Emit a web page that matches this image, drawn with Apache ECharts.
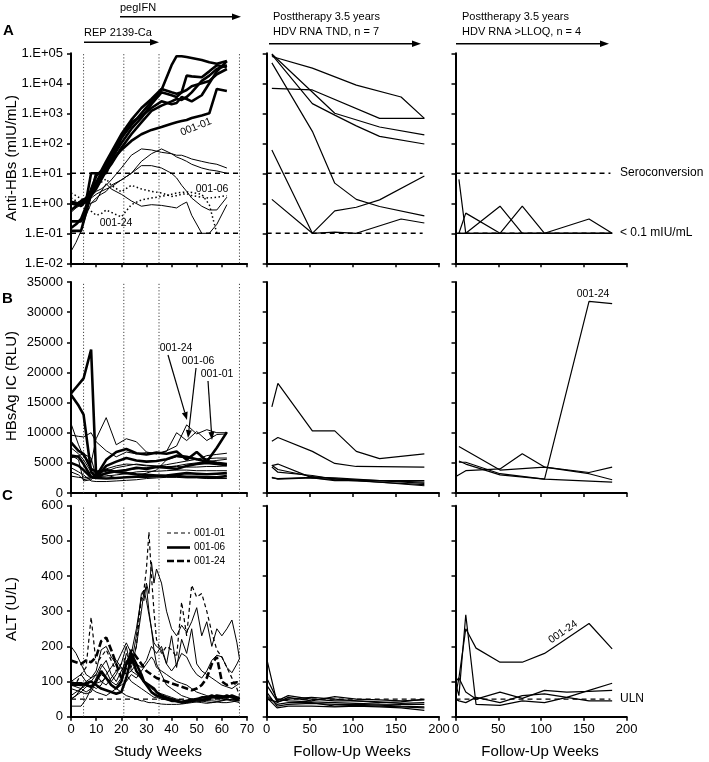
<!DOCTYPE html>
<html><head><meta charset="utf-8">
<script src="https://cdn.jsdelivr.net/npm/echarts@6/dist/echarts.min.js"></script>
<style>html,body{margin:0;padding:0;background:#fff}#c{width:709px;height:762px}</style>
</head><body><div id="c"></div>
<script>
// ---------------- DATA ----------------
const phaseWeeks = [5, 21, 35, 67];
const logTickLabels = ['1.E-02','1.E-01','1.E+00','1.E+01','1.E+02','1.E+03','1.E+04','1.E+05'];
const seroconversion = 10, lloqAntiHBs = 0.1, uln = 50;

// Row A, study weeks (anti-HBs, mIU/mL)
const aWeeks = [0, 2, 4, 6, 8, 10, 12, 14, 16, 20, 24, 28, 32, 36, 40, 42, 44, 46, 48, 52, 55, 58, 62];
const aThick1 = [0.12,0.12,0.12,0.5,2,10,10,10,25,150,400,1000,2500,6000,40000,80000,80000,75000,70000,60000,50000,45000,55000];
const aThick2 = [0.25,0.25,0.25,0.6,2,4,8,15,30,100,300,700,2000,5000,4000,3500,5000,18000,17000,16000,25000,40000,35000];
const aThick3 = [1.0,0.9,1.2,1.5,2.5,5,10,20,40,150,500,800,1500,2500,2000,2200,3500,3000,2500,4000,10000,25000,55000];
const a0101   = [0.6,0.8,1.0,1.3,1.8,3,6,12,25,60,120,200,280,350,450,500,550,600,700,850,1000,6500,5500];
const aThick5 = [0.15,0.2,0.3,0.8,3,8,12,25,50,200,600,1500,3000,6500,5000,4500,5000,6000,8000,10000,12000,20000,30000];
const aThick6 = [1.1,1.0,0.8,1.2,10,10,10,12,20,70,200,500,1200,1800,2500,3000,2800,3500,5000,12000,18000,30000,40000];
const aThin1  = [1.2,1.1,1.0,1.2,1.8,2.5,3,4,6,15,40,65,60,50,45,40,40,35,30,25,22,20,15];
const aThin2  = [0.5,0.7,0.9,1.2,1.5,2,2.5,3,3.5,6,10,25,45,65,45,35,30,25,20,15,13,12,10];
const aThin3  = [0.025,0.05,0.12,0.4,1.0,1.5,2.0,2.5,4,6,10,18,18,15,10,7,4,2.5,1.5,0.8,0.6,0.6,1.6];
const aThin4  = [1.1,1.0,1.0,1.0,1.0,1.2,2.5,4.5,3.0,2.0,1.2,0.8,0.9,0.85,0.75,0.7,0.9,1.1,0.4,0.1,0.1,0.2,0.9];
const aDot0106 = [2.2,1.8,1.4,1.3,2.0,3.5,5,6.5,4,2.4,4,3,2.5,2.2,1.7,1.8,2.0,2.1,1.8,1.6,1.5,1.6,1.8];
const aDot0124 = [1.5,1.2,1.0,0.8,0.55,0.4,0.45,0.6,0.5,0.35,0.9,1.3,1.5,1.7,2.0,2.2,2.3,2.4,2.3,2.0,0.9,0.1,null];

// Follow-up weeks (TND group)
const fuWeeks = [6, 13, 26, 53, 79, 104, 131, 156, 183];
const fA1 = [78000,null,null,32000,null,8700,null,3500,680];
const fA2 = [6800,null,null,6000,null,null,680,null,680];
const fA3 = [90000,null,null,2100,870,380,170,null,95];
const fA4 = [95000,null,null,null,1000,null,350,null,190];
const fA5 = [48000,null,null,250,4.7,1.35,0.78,null,0.38];
const fA6 = [60,null,null,0.1,0.56,0.74,1.3,null,8.1];
const fA7 = [1.35,null,null,0.1,0.11,0.1,null,0.3,0.22];

// Follow-up weeks (>LLOQ group)
const lqWeeksA = [4, 12, 26, 52, 78, 104, 130, 156, 183];
const lA1 = [6.3,0.1,0.1,0.1,0.1,0.1,0.1,0.1,0.1];
const lA2 = [0.1,0.47,null,0.1,0.1,0.1,null,0.1,0.1];
const lA3 = [0.1,0.1,null,0.8,0.1,0.1,null,0.1,0.1];
const lA4 = [0.1,0.1,null,0.1,0.8,0.1,null,0.3,0.1];

// Row B, study weeks (HBsAg IC, RLU)
const bWeeks = [0, 3, 5, 8, 10, 14, 18, 22, 26, 30, 34, 38, 42, 46, 50, 54, 58, 62];
const bThick1 = [16500,18000,19000,23800,2800,5500,6800,7300,6600,6400,6700,6500,6900,5500,6800,5300,5000,4800];
const bThick2 = [16300,14500,13000,3500,2600,3300,3600,3800,4200,4000,4300,4200,4000,4500,4800,5000,4800,4600];
const b0101   = [6200,6000,4800,2700,2500,4500,5200,5800,5400,5200,5300,5600,6200,6000,5600,5200,7500,10100];
const bThick4 = [8400,7000,6500,4000,3500,3800,3500,3300,3100,3000,2900,2800,2800,2700,2700,2600,2600,2800];
const bThick5 = [5000,4500,3800,2600,2500,2400,2500,2600,2700,2700,2800,2900,3100,3300,3200,3100,3200,3300];
const b0124   = [11500,8000,6000,5000,9000,12500,8000,9000,8500,6800,6500,7000,7800,11300,9800,10500,10000,10000];
const b0106   = [9600,9400,9300,10000,8500,7000,6000,6800,6500,6700,6500,6900,10000,8700,10200,8700,9700,9800];
const bThin3  = [7500,6500,5500,3500,3200,3000,2500,2600,2800,3300,3800,5500,6000,5800,5500,6200,6400,6600];
const bThin4  = [4200,3500,3000,2000,1900,1900,2000,2100,2200,2400,2500,2600,2600,2500,2500,2400,2400,2400];
const bThin5  = [6300,5500,2000,2200,3000,4000,4500,4800,4700,4500,4400,4300,4500,4800,5000,5200,5400,5600];
const bThin6  = [3500,3000,2200,2500,3200,3600,4200,4500,4800,4600,4500,4400,4400,4300,4300,4400,4400,4500];
const bThin7  = [5800,6200,6500,5800,2700,2800,3000,3200,3500,3600,3600,3700,3800,3800,3700,3700,3700,3700];
const bThin8  = [2800,2600,2500,2700,3000,3300,3600,3800,4000,4200,4400,4700,5000,5300,5600,5700,5800,5800];

const fB1 = [14300,18200,null,10300,10300,6900,5700,null,6500];
const fB2 = [8600,9200,null,6900,4900,4400,null,null,4300];
const fB3 = [4550,4800,null,2500,2200,null,null,null,1400];
const fB4 = [4300,3450,null,2900,2300,null,null,null,1800];
const fB5 = [2600,2300,null,2500,2050,null,null,null,2050];
const fB6 = [4600,3900,null,2700,2400,null,null,null,1200];
const fB7 = [2500,2400,null,2600,2500,null,null,null,1600];

const lqWeeksB = [0, 4, 12, 52, 78, 104, 130, 156, 183];
const lB1 = [null,5100,5100,3200,null,2300,null,31800,31400];
const lB2 = [null,7700,null,3800,null,4300,null,3400,4300];
const lB3 = [2700,null,3700,4000,6500,4300,null,3200,2200];
const lB4 = [null,5300,4800,3000,null,2300,null,null,1800];

// Row C, study weeks (ALT, U/L)
const cWeeks = [0,2,4,6,8,10,12,14,16,18,20,22,24,26,28,29,30,31,32,33,34,36,38,40,42,44,46,48,50,52,54,56,58,60,62,64,66,67];
const c0101 = [100,95,120,140,283,150,170,190,160,130,150,170,150,200,340,360,420,525,400,300,220,180,200,190,170,326,230,374,340,350,300,240,190,170,140,110,80,60];
const c0106 = [95,95,95,90,85,100,130,110,90,80,100,150,180,150,120,100,90,80,70,65,60,55,50,45,45,40,42,45,50,55,55,60,55,55,60,55,50,55];
const c0124 = [160,155,150,160,155,170,215,225,190,150,110,140,190,170,150,140,130,125,120,115,110,105,100,95,90,85,80,75,80,90,110,150,170,100,90,95,98,97];
const cThin1 = [200,180,150,120,110,130,190,200,170,150,180,210,180,250,340,330,380,350,440,380,420,380,300,250,230,260,240,270,310,230,270,200,250,230,250,275,210,165];
const cThin2 = [60,70,80,90,100,120,150,130,100,90,110,180,150,230,350,360,330,290,250,210,200,190,150,130,150,180,170,140,120,110,130,160,175,170,140,125,150,165];
const cThin3 = [90,85,80,70,80,110,140,160,120,100,130,160,140,200,300,355,370,300,250,190,150,120,90,80,70,60,55,50,45,45,48,50,52,50,48,50,50,52];
const cThin4 = [50,60,80,100,110,120,100,90,110,130,140,120,130,150,140,150,160,180,200,190,180,200,150,230,140,220,180,250,150,130,120,110,100,90,85,80,90,95];
const cThin5 = [30,30,30,50,80,95,100,110,90,80,70,60,55,50,45,45,42,40,40,40,38,36,35,35,35,36,38,40,42,40,38,40,42,40,40,42,45,45];
const cThin6 = [50,60,70,85,90,80,90,120,140,160,140,120,100,90,80,75,70,65,60,55,55,50,48,45,42,40,40,42,45,45,42,40,42,45,48,45,42,40];
const cThick2 = [90,92,90,95,100,90,80,75,70,65,70,110,170,130,110,100,95,90,85,80,70,60,55,50,45,42,45,48,50,48,50,55,60,58,55,60,55,50];
const cThin7 = [80,75,70,65,70,100,120,110,100,120,150,200,130,120,110,100,90,85,80,75,70,65,60,55,50,48,45,44,42,44,46,45,44,46,50,48,46,48];
const cThin8 = [100,110,120,100,80,70,65,60,70,80,90,100,120,110,130,140,150,160,170,160,140,130,120,110,100,95,90,80,70,65,60,55,55,52,50,48,46,45];

const fuWeeksC = [0, 12, 25, 52, 79, 104, 131, 156, 183];
const fC1 = [165,40,55,45,57,50,48,45,48];
const fC2 = [90,45,60,50,45,45,40,42,50];
const fC3 = [70,30,35,38,35,35,33,30,28];
const fC4 = [60,35,40,40,30,32,30,28,25];
const fC5 = [55,25,30,30,28,30,28,25,18];
const fC6 = [110,50,45,42,40,38,36,35,35];
const fC7 = [50,42,50,55,50,45,42,38,40];

const lqWeeksC = [0, 4, 12, 24, 52, 78, 104, 130, 156, 183];
const lC1 = [60,110,250,195,155,155,180,null,265,193];
const lC2 = [95,60,290,35,32,45,40,55,75,95];
const lC3 = [100,110,70,50,70,52,75,70,72,75];
const lC4 = [50,45,40,55,40,60,65,55,45,45];

// ---------------- CHART ----------------
const FONT = '"Liberation Sans", Arial, Helvetica, sans-serif';
const rowsY = [{top:53.3,h:210},{top:282,h:211},{top:505.7,h:211}];
const colsX = [{left:71,w:176},{left:266.7,w:172.3},{left:455.5,w:171.2}];
const grid = [], xAxis = [], yAxis = [], series = [];
for (let r = 0; r < 3; r++) for (let c = 0; c < 3; c++) {
  const gi = r*3 + c;
  grid.push({left: colsX[c].left, top: rowsY[r].top, width: colsX[c].w, height: rowsY[r].h, outerBoundsMode: 'none', containLabel: false});
  xAxis.push({gridIndex: gi, type: 'value', min: 0, max: c === 0 ? 70 : 200, interval: c === 0 ? 10 : 50,
    axisLine: {show: true, onZero: false, lineStyle: {color: '#000', width: 2}},
    axisTick: {show: true, length: 4, lineStyle: {color: '#000', width: 1.5}},
    axisLabel: {show: r === 2, color: '#000', fontSize: 13, fontFamily: FONT, margin: 6, formatter: v => String(v)},
    splitLine: {show: false}});
  const ya = {gridIndex: gi,
    axisLine: {show: true, onZero: false, lineStyle: {color: '#000', width: 2}},
    axisTick: {show: true, length: 4, lineStyle: {color: '#000', width: 1.5}},
    axisLabel: {show: c === 0, color: '#000', fontSize: 13, fontFamily: FONT, margin: 8, formatter: v => String(v)},
    splitLine: {show: false}};
  if (r === 0) Object.assign(ya, {type: 'log', logBase: 10, min: 0.01, max: 100000,
    axisLabel: Object.assign(ya.axisLabel, {formatter: v => logTickLabels[Math.round(Math.log10(v)) + 2]})});
  else if (r === 1) Object.assign(ya, {type: 'value', min: 0, max: 35000, interval: 5000});
  else Object.assign(ya, {type: 'value', min: 0, max: 600, interval: 100});
  yAxis.push(ya);
}

function addLine(gi, xs, ys, ls, z) {
  const data = [];
  xs.forEach((x, i) => { if (ys[i] != null) data.push([x, ys[i]]); });
  series.push({type: 'line', xAxisIndex: gi, yAxisIndex: gi, data, symbol: 'none', showSymbol: false,
    silent: true, animation: false, z: z || 3,
    lineStyle: Object.assign({color: '#000', width: 1}, ls)});
}
const THICK = {width: 2.6}, THIN = {width: 1}, FU = {width: 1.2};
const DOT = {width: 1.5, type: [1.5, 2.5]};
const REF = {width: 1.4, type: [5, 4], color: '#000'};
const VREF = {width: 1, type: [1.2, 2], color: '#444'};

// phase lines in column 1
[0, 1, 2].forEach(r => {
  const ext = r === 0 ? [0.01, 100000] : r === 1 ? [0, 35000] : [0, 600];
  phaseWeeks.forEach(w => addLine(r*3, [w, w], ext, VREF, 1));
});
// threshold lines
addLine(0, [0, 67], [seroconversion, seroconversion], REF, 2);
addLine(0, [0, 67], [lloqAntiHBs, lloqAntiHBs], REF, 2);
addLine(1, [0, 181], [seroconversion, seroconversion], REF, 2);
addLine(1, [0, 181], [lloqAntiHBs, lloqAntiHBs], REF, 2);
addLine(2, [0, 181], [seroconversion, seroconversion], REF, 2);
addLine(2, [0, 181], [lloqAntiHBs, lloqAntiHBs], REF, 2);
addLine(6, [0, 67], [uln, uln], REF, 2);
addLine(7, [0, 181], [uln, uln], REF, 2);
addLine(8, [0, 181], [uln, uln], REF, 2);

// Row A
[aThin1, aThin2, aThin3, aThin4].forEach(s => addLine(0, aWeeks, s, THIN));
[aDot0106, aDot0124].forEach(s => addLine(0, aWeeks, s, DOT));
[aThick1, aThick2, aThick3, a0101, aThick5, aThick6].forEach(s => addLine(0, aWeeks, s, THICK, 4));
[fA1, fA2, fA3, fA4, fA5, fA6, fA7].forEach(s => addLine(1, fuWeeks, s, FU));
[lA1, lA2, lA3, lA4].forEach(s => addLine(2, lqWeeksA, s, FU));
// Row B
[b0124, b0106, bThin3, bThin4, bThin5, bThin6, bThin7, bThin8].forEach(s => addLine(3, bWeeks, s, THIN));
[bThick1, bThick2, b0101, bThick4, bThick5].forEach(s => addLine(3, bWeeks, s, THICK, 4));
[fB1, fB2, fB3, fB4, fB5, fB6, fB7].forEach(s => addLine(4, fuWeeks, s, FU));
[lB1, lB2, lB3, lB4].forEach(s => addLine(5, lqWeeksB, s, FU));
// Row C
[cThin1, cThin2, cThin3, cThin4, cThin5, cThin6, cThin7, cThin8].forEach(s => addLine(6, cWeeks, s, THIN));
addLine(6, cWeeks, c0101, {width: 1.2, type: [4, 3]}, 4);
addLine(6, cWeeks, cThick2, THICK, 4);
addLine(6, cWeeks, c0106, THICK, 5);
addLine(6, cWeeks, c0124, {width: 2.6, type: [7, 3]}, 5);
[fC1, fC2, fC3, fC4, fC5, fC6, fC7].forEach(s => addLine(7, fuWeeksC, s, FU));
[lC1, lC2, lC3, lC4].forEach(s => addLine(8, lqWeeksC, s, FU));

// ---------------- ANNOTATIONS ----------------
const g = [];
function txt(text, x, y, size, opts) {
  opts = opts || {};
  g.push({type: 'text', x, y, rotation: opts.rot || 0, z: 10, silent: true,
    style: {text, fill: '#000', fontSize: size, fontFamily: FONT, fontWeight: opts.bold ? 'bold' : 'normal',
      align: opts.align || 'left', verticalAlign: 'middle', textAlign: opts.align || 'left', textVerticalAlign: 'middle'}});
}
function arrow(x1, y1, x2, y2, w, L, H) {
  L = L || 9; H = H || 3.2;
  const a = Math.atan2(y2 - y1, x2 - x1);
  const bx = x2 - L*Math.cos(a), by = y2 - L*Math.sin(a);
  g.push({type: 'line', silent: true, z: 10, shape: {x1, y1, x2: bx, y2: by}, style: {stroke: '#000', lineWidth: w}});
  g.push({type: 'polygon', silent: true, z: 10, shape: {points: [[x2, y2], [bx + H*Math.sin(a), by - H*Math.cos(a)], [bx - H*Math.sin(a), by + H*Math.cos(a)]]}, style: {fill: '#000'}});
}
function seg(x1, y1, x2, y2, w, dash) {
  g.push({type: 'line', silent: true, z: 10, shape: {x1, y1, x2, y2}, style: {stroke: '#000', lineWidth: w, lineDash: dash || null}});
}
txt('A', 3, 31, 15, {bold: true});
txt('B', 2, 299, 15, {bold: true});
txt('C', 2, 496, 15, {bold: true});
txt('pegIFN', 120, 8, 11);
arrow(120, 16.7, 241, 16.7, 1.5);
txt('REP 2139-Ca', 84, 33, 11);
arrow(84, 42.3, 159, 42.3, 1.5);
txt('Posttherapy 3.5 years', 273, 17, 11);
txt('HDV RNA TND, n = 7', 273, 32, 11);
arrow(269, 43.7, 421, 43.7, 1.5);
txt('Posttherapy 3.5 years', 462, 17, 11);
txt('HDV RNA >LLOQ, n = 4', 462, 32, 11);
arrow(456, 43.7, 609, 43.7, 1.5);
txt('Seroconversion', 620, 173, 12);
txt('< 0.1 mIU/mL', 620, 233, 12);
txt('ULN', 620, 699, 12);
txt('Anti-HBs (mIU/mL)', 12, 158, 15, {rot: Math.PI/2, align: 'center'});
txt('HBsAg IC (RLU)', 12, 386, 15, {rot: Math.PI/2, align: 'center'});
txt('ALT (U/L)', 12, 609, 15, {rot: Math.PI/2, align: 'center'});
txt('Study Weeks', 158, 752, 15, {align: 'center'});
txt('Follow-Up Weeks', 352, 752, 15, {align: 'center'});
txt('Follow-Up Weeks', 540, 752, 15, {align: 'center'});
txt('001-01', 196, 127, 10.5, {rot: 0.38, align: 'center'});
txt('001-06', 212, 189, 10.5, {align: 'center'});
txt('001-24', 116, 223, 10.5, {align: 'center'});
txt('001-24', 176, 348, 10.5, {align: 'center'});
txt('001-06', 198, 361, 10.5, {align: 'center'});
txt('001-01', 217, 374, 10.5, {align: 'center'});
arrow(168, 355, 187, 420, 1.2, 8, 3);
arrow(196, 368, 188, 438, 1.2, 8, 3);
arrow(208, 381, 212, 440, 1.2, 8, 3);
txt('001-24', 593, 294.5, 10.5, {align: 'center'});
txt('001-24', 563, 632, 10.5, {rot: 0.6, align: 'center'});
// legend in row C
seg(167, 533, 190, 533, 1.2, [4, 3]);
seg(167, 547.5, 190, 547.5, 2.6);
seg(167, 561, 190, 561, 2.6, [7, 3]);
txt('001-01', 194, 533, 10);
txt('001-06', 194, 547.5, 10);
txt('001-24', 194, 561, 10);

const chart = echarts.init(document.getElementById('c'), null, {renderer: 'canvas'});
chart.setOption({animation: false, backgroundColor: '#fff', grid, xAxis, yAxis, series, graphic: {elements: g}});
</script></body></html>
